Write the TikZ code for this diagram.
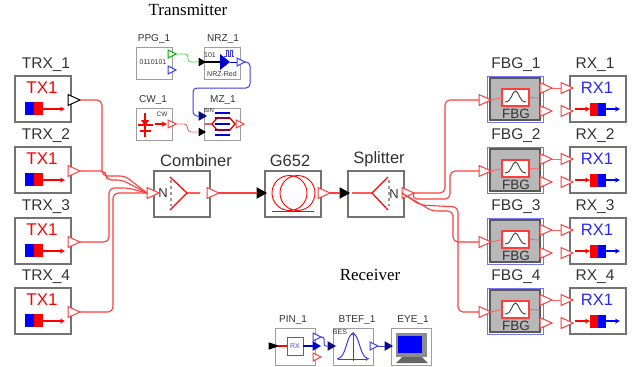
\documentclass[tikz,border=0pt]{standalone}
\usepackage{fontspec}
\setmainfont{Liberation Serif}
\setsansfont{Liberation Sans}
\usetikzlibrary{arrows,shapes.geometric}
\definecolor{wirered}{RGB}{255,60,60}
\definecolor{edgegray}{RGB}{115,115,115}
\definecolor{labelgray}{RGB}{50,50,50}
\definecolor{wireblue}{RGB}{60,60,235}
\definecolor{navy}{RGB}{10,10,130}
\begin{document}
\begin{tikzpicture}[x=1pt, y=-1pt]
\tikzstyle{every node}=[inner sep=0pt, outer sep=0pt]
\tikzstyle{bigbox}=[draw=edgegray, line width=1.2pt, fill=white, minimum width=56pt, minimum height=46pt]
\tikzstyle{smallbox}=[draw=edgegray!70, line width=.9pt, fill=white, minimum width=36pt, minimum height=32pt]
\tikzstyle{lbl}=[font=\sffamily\fontsize{15.5}{16}\selectfont, text=labelgray]
\tikzstyle{lblbig}=[font=\sffamily\fontsize{16.5}{17}\selectfont, text=labelgray]
\tikzstyle{lblsmall}=[font=\sffamily\fontsize{10}{11}\selectfont, text=labelgray]
\tikzstyle{caption}=[font=\rmfamily\fontsize{17}{18}\selectfont, text=black]
\tikzstyle{tag}=[font=\sffamily\fontsize{7}{8}\selectfont, text=labelgray]
\tikzstyle{port}=[isosceles triangle, isosceles triangle stretches, anchor=west, draw=wirered,
                  fill=white, line width=1pt, minimum height=12pt, minimum width=11pt]
\tikzstyle{tinyport}=[port, minimum height=8pt, minimum width=8pt]
\tikzstyle{portin}=[port, draw=black, fill=black, minimum height=9pt, minimum width=10pt]
\tikzstyle{tinyin}=[port, draw=navy, fill=navy, minimum height=7pt, minimum width=8pt]
\tikzstyle{wire}=[draw=wirered, line width=1.1pt, rounded corners=5pt]
\tikzstyle{thinwire}=[draw=wirered!80, line width=.9pt, rounded corners=3pt]
\tikzstyle{bluewire}=[draw=wireblue, line width=1pt, rounded corners=4pt]
\useasboundingbox (0,0) rectangle (638,367);
% captions
\node[caption] (txcap) at (188,10) {Transmitter};
\node[caption] (rxcap) at (370,275) {Receiver};
% the four rows
\foreach \i/\y/\c in {1/76/black,2/147/wirered,3/218/wirered,4/288/wirered}{
  \node[bigbox, anchor=north west] (trx\i) at (15,\y) {};
  \node[lbl] (trxl\i) at (46,\y-11) {TRX\_\i};
  \node[font=\sffamily\fontsize{17}{18}\selectfont, text=red] (trxt\i) at (42,\y+12) {TX1};
  \fill[blue] (25,\y+26) rectangle (34,\y+39);
  \fill[red] (34,\y+26) rectangle (43,\y+39);
  \draw[red, line width=1.2pt, -stealth] (43,\y+33) -- (65,\y+33);
  \node[port, draw=\c] (tro\i) at (68,\y+24) {};
  \node[draw=wireblue!70, line width=1pt, fill=white, anchor=north west, minimum width=56pt, minimum height=46pt] (fbgo\i) at (487,\y) {};
  \node[draw=black!65, line width=1.1pt, fill=black!28, anchor=north west, minimum width=50pt, minimum height=42pt] (fbg\i) at (490,\y+2) {};
  \node[lbl] (fbgl\i) at (516,\y-11) {FBG\_\i};
  \node[draw=wirered, line width=1.1pt, fill=white, anchor=north west, minimum width=27pt, minimum height=17pt] (fbgw\i) at (502,\y+13) {};
  \draw[black!70, line width=1pt] (505,\y+26) .. controls (512,\y+26) and (512,\y+15) .. (515.5,\y+15) .. controls (519,\y+15) and (519,\y+26) .. (526,\y+26);
  \node[font=\sffamily\fontsize{13.5}{14}\selectfont, text=labelgray] (fbgt\i) at (516,\y+38) {FBG};
  \node[port] (fbgi\i) at (479,\y+24) {};
  \node[port] (fbga\i) at (540,\y+12) {};
  \node[port] (fbgb\i) at (540,\y+35) {};
  \draw[thinwire] (fbgi\i.east) -- (fbgw\i.west);
  \draw[thinwire] (fbgw\i.east) -- (540,\y+22);
  \node[bigbox, anchor=north west] (rx\i) at (570,\y) {};
  \node[lbl] (rxl\i) at (595,\y-11) {RX\_\i};
  \node[font=\sffamily\fontsize{16.5}{17}\selectfont, text=blue!85!white] (rxt\i) at (597,\y+12) {RX1};
  \fill[red] (590,\y+27) rectangle (598,\y+40);
  \fill[blue] (598,\y+27) rectangle (606,\y+40);
  \draw[red, line width=1.2pt, -stealth] (575,\y+33) -- (590,\y+33);
  \draw[blue, line width=1.2pt, -stealth] (606,\y+33) -- (620,\y+33);
  \node[port] (rxa\i) at (561,\y+12) {};
  \node[port] (rxb\i) at (561,\y+35) {};
  \draw[thinwire] (fbga\i.east) -- (rxa\i.west);
}
% main line
\node[bigbox] (combiner) at (182,194) {};
\node[lblbig] (combinerl) at (196,161) {Combiner};
\node[bigbox] (fiber) at (293,194) {};
\node[lblbig] (fiberl) at (290,161) {G652};
\node[bigbox] (splitter) at (376,194) {};
\node[lblbig] (splitterl) at (379,159) {Splitter};
\node[lblbig, font=\sffamily\fontsize{13}{14}\selectfont] (cmbn) at (163,193) {N};
\node[lblbig, font=\sffamily\fontsize{13}{14}\selectfont] (splt) at (394,194) {N};
\draw[black!40, dashed, line width=1.2pt] (171,180) -- (171,206);
\draw[black!40, dashed, line width=1.2pt] (389,180) -- (389,206);
\draw[red, line width=1.2pt] (170,177) -- (187,193) -- (170,210) (187,193) -- (200,193);
\draw[red, line width=1.2pt] (388,177) -- (372,193) -- (388,210) (372,193) -- (352,193);
\draw[red, line width=.9pt] (289.5,193) circle (17.5pt) (297.5,193) circle (17.5pt);
\draw[red, line width=.9pt] (272,211) -- (314,211);
\node[port] (cmbi) at (147,193) {};
\node[port] (cmbo) at (207,193) {};
\node[portin] (fibi) at (257,193) {};
\node[port] (fibo) at (318,193) {};
\node[portin] (spli) at (340,193) {};
\node[port] (splo) at (402,193) {};
\draw[wire] (cmbo.east) -- (fibi.west);
\draw[wire] (fibo.east) -- (spli.west);
\draw[wire] (tro1.east) -- (102,100) -- (102,176) -- (125,176) -- (cmbi.west);
\draw[wire] (tro2.east) -- (106,171) -- (106,180) -- (122,180) -- (cmbi.west);
\draw[wire] (tro3.east) -- (109,242) -- (109,188) -- (128,188) -- (cmbi.west);
\draw[wire] (tro4.east) -- (113,312) -- (113,193) -- (cmbi.west);
\draw[wire] (splo.east) -- (445,193) -- (445,100) -- (fbgi1.west);
\draw[wire] (splo.east) -- (412,199) -- (450,199) -- (450,171) -- (fbgi2.west);
\draw[wire] (splo.west) -- (432,211) -- (453,211) -- (453,242) -- (fbgi3.west);
\draw[wire] (splo.west) -- (420,205) -- (458,207) -- (458,312) -- (fbgi4.west);
% transmitter
\node[smallbox, anchor=north west] (ppg) at (136,47) {};
\node[lblsmall] (ppgl) at (154,39) {PPG\_1};
\node[tag] (ppgt) at (153,62) {0110101};
\node[smallbox, anchor=north west] (nrz) at (204,47) {};
\node[lblsmall] (nrzl) at (223,39) {NRZ\_1};
\node[tag] (nrza) at (210,55) {101};
\node[tag] (nrzb) at (222,74) {NRZ-Red};
\draw[wireblue, line width=.9pt] (224,56) -- (226,56) -- (226,50) -- (228,50) -- (228,56) -- (230,56) -- (230,50) -- (232,50) -- (232,56) -- (234,56);
\draw[black, line width=1.6pt] (204,62) -- (220,62);
\fill[blue!80!black] (220,54) -- (230,62) -- (220,70) -- cycle;
\draw[blue!80!black, line width=1pt] (230,62) -- (238,62);
\node[smallbox, anchor=north west] (cw) at (136,108) {};
\node[lblsmall] (cwl) at (153,100) {CW\_1};
\node[tag, font=\sffamily\fontsize{6.5}{7}\selectfont] (cwt) at (162,114) {CW};
\draw[red, line width=1.2pt] (145,113) -- (145,137) (138,125) -- (153,125) (140,131) -- (151,131);
\fill[red] (141,120) -- (149,120) -- (145,126) -- cycle;
\draw[red, line width=1.4pt, -stealth] (155,124) -- (167,124);
\node[smallbox, anchor=north west] (mz) at (204,108) {};
\node[lblsmall] (mzl) at (223,100) {MZ\_1};
\node[tag, font=\sffamily\fontsize{6}{7}\selectfont] (mzt) at (209,110) {BIN};
\draw[blue!80!black, line width=1.3pt] (215,113) -- (230,113) (215,118) -- (230,118) (215,124) -- (230,124) (215,130) -- (230,130) (215,135) -- (230,135);
\draw[red!85!black, line width=1.3pt] (205,124) -- (212,124) -- (217,118) -- (230,118) -- (235,124) -- (237,124) (212,124) -- (217,130) -- (230,130) -- (235,124);
\node[tinyport, draw=green!70!black] (ppga) at (168,54) {};
\node[tinyport, draw=wireblue] (ppgb) at (168,70) {};
\node[port, draw=black, fill=black, minimum height=6pt, minimum width=7pt] (nrzi) at (199,62) {};
\node[tinyport, draw=wireblue] (nrzo) at (237,62) {};
\node[tinyport] (cwo) at (168,124) {};
\node[tinyin] (mzb) at (199,116) {};
\node[port, draw=black, fill=black, minimum height=6pt, minimum width=7pt] (mzr) at (199,132) {};
\node[tinyport] (mzo) at (236,124) {};
\draw[draw=green!75!black!70, line width=.8pt, rounded corners=3pt] (ppga.east) -- (188,54) -- (188,62) -- (nrzi.west);
\draw[bluewire] (nrzo.east) -- (250,62) -- (250,88) -- (193,88) -- (193,116) -- (mzb.west);
\draw[thinwire] (cwo.east) -- (187,124) -- (188,132) -- (mzr.west);
% receiver
\node[smallbox, anchor=north west, minimum width=40pt, minimum height=37pt] (pin) at (275,328) {};
\node[lblsmall] (pinl) at (293,320) {PIN\_1};
\node[draw=black!60, line width=1pt, fill=white, anchor=north west, minimum width=16pt, minimum height=18pt, font=\sffamily\fontsize{7}{8}\selectfont, text=blue!70!white] (pinrx) at (287,337) {RX};
\node[smallbox, anchor=north west, minimum width=40pt, minimum height=37pt] (btef) at (333,328) {};
\node[lblsmall] (btefl) at (357,320) {BTEF\_1};
\node[tag] (btefb) at (340,332) {BES};
\draw[black!70, line width=.7pt, ->] (338,359) -- (368,359);
\draw[black!70, line width=.7pt, ->] (353,361) -- (353,332);
\draw[wireblue, line width=1pt] (337,359) .. controls (347,358) and (346,334) .. (353,334) .. controls (360,334) and (359,358) .. (369,359);
\node[smallbox, anchor=north west, minimum width=40pt, minimum height=37pt] (eye) at (391,328) {};
\node[lblsmall] (eyel) at (413,320) {EYE\_1};
\node[fill=black!45, anchor=north west, minimum width=31pt, minimum height=24pt] (eyem) at (396,333) {};
\node[fill=blue, anchor=north west, minimum width=24pt, minimum height=17pt] (eyes) at (398,336) {};
\fill[black!60] (402,357) -- (422,357) -- (428,363) -- (396,363) -- cycle;
\node[port, draw=black, fill=black, minimum height=9pt, minimum width=6pt] (pini) at (269,346) {};
\node[tinyport, draw=wireblue] (pina) at (313,337) {};
\node[tinyin, draw=blue!80!black, fill=blue!80!black] (pinb) at (313,346) {};
\node[tinyport] (pinc) at (313,357) {};
\node[tinyin] (btefi) at (328,346) {};
\node[tinyport, draw=wireblue] (btefo) at (370,346) {};
\node[tinyin] (eyei) at (385,346) {};
\draw[red, line width=1.1pt] (pini.east) -- (pinrx.west);
\draw[blue!80!black, line width=1.1pt] (pinrx.east) -- (pinb.west);
\draw[bluewire, rounded corners=2pt] (pina.east) -- (324,337) -- (324,346) -- (btefi.west);
\draw[bluewire] (btefo.east) -- (eyei.west);
\end{tikzpicture}
\end{document}
